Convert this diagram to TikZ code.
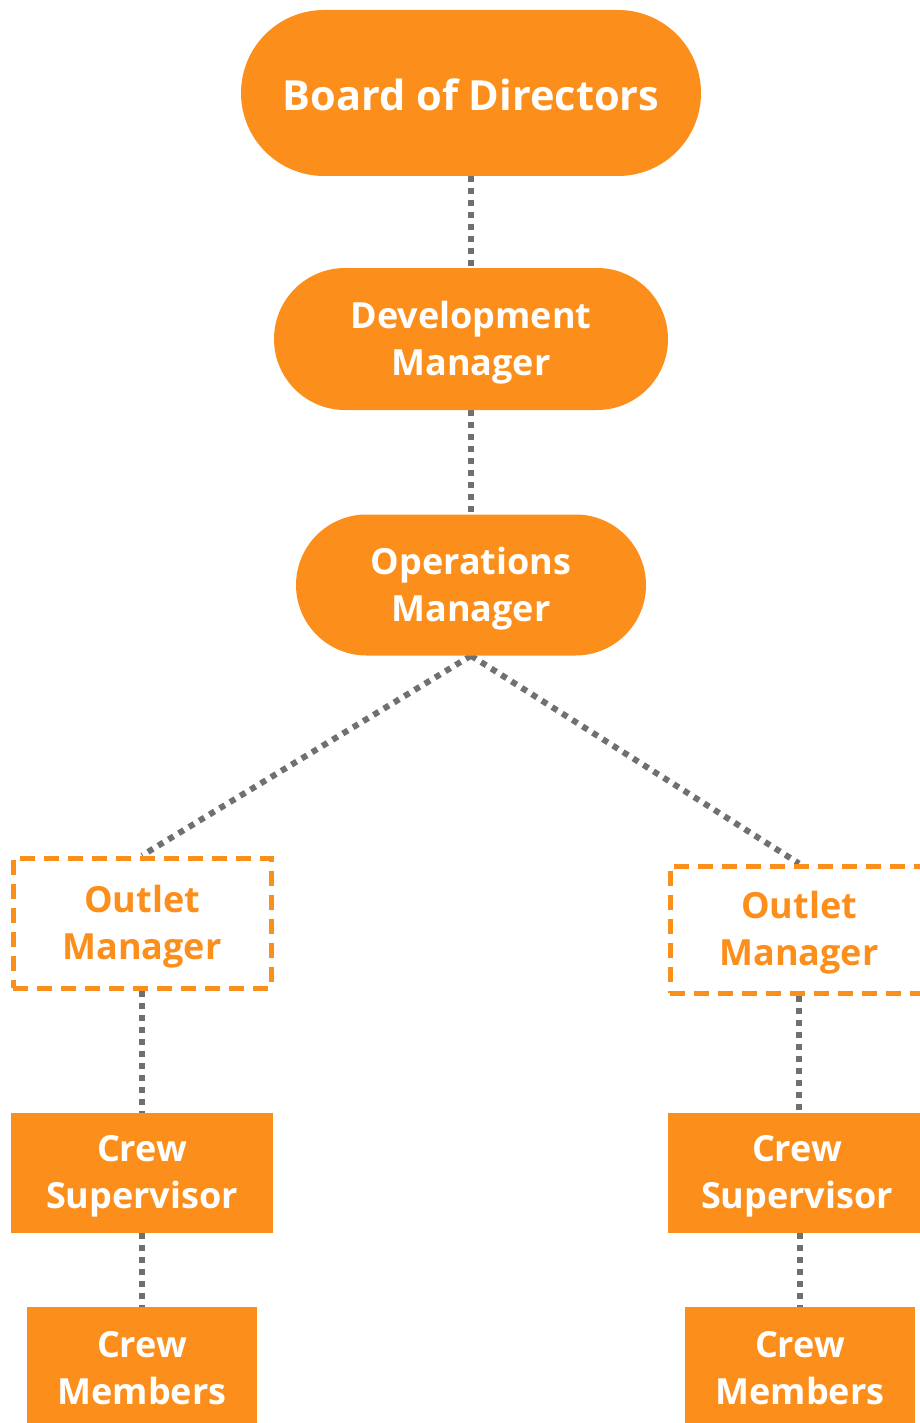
\documentclass[tikz,border=0pt]{standalone}
\usepackage{fontspec}
\setmainfont{Open Sans}[BoldFont={Open Sans Bold}]
\usetikzlibrary{shapes.misc,backgrounds}
\definecolor{orgorange}{HTML}{FC8F1B}
\definecolor{linkgray}{HTML}{707070}
\begin{document}
\begin{tikzpicture}[x=1pt,y=-1pt,
  labelfont/.style={font=\bfseries\fontsize{36}{47}\selectfont},
  % box text sits at the centre, lowered a little for optical balance
  caption/.style={label={[labelfont, text=white, align=center, inner sep=0pt, yshift=-3.5pt]center:#1}},
  dcaption/.style={label={[labelfont, text=orgorange, align=center, inner sep=0pt, yshift=-3.5pt]center:#1}},
  pill/.style={rounded rectangle, fill=orgorange, inner sep=0pt},
  solidbox/.style={rectangle, fill=orgorange, inner sep=0pt},
  dashbox/.style={rectangle, draw=orgorange, line width=5pt, dash pattern=on 15pt off 9pt, fill=white, inner sep=0pt},
  link/.style={draw=linkgray, line width=6pt, dash pattern=on 6pt off 6pt}]
\useasboundingbox (0,0) rectangle (920,1423);
\clip (0,0) rectangle (920,1423);
% org chart boxes
\node[pill, minimum width=460pt, minimum height=166pt,
  label={[font=\bfseries\fontsize{41.5}{47}\selectfont, text=white, inner sep=0pt, yshift=-2pt]center:Board of Directors}] (board) at (471,93) {};
\node[pill, minimum width=394pt, minimum height=142pt, caption={Development\\Manager}] (dev) at (471,339) {};
\node[pill, minimum width=350pt, minimum height=141pt, caption={Operations\\Manager}] (ops) at (471,585) {};
\node[dashbox, minimum width=258pt, minimum height=130pt, dcaption={Outlet\\Manager}] (outL) at (142,923) {};
\node[dashbox, minimum width=258pt, minimum height=127pt, dcaption={Outlet\\Manager}] (outR) at (799,929.5) {};
\node[solidbox, minimum width=262pt, minimum height=120pt, caption={Crew\\Supervisor}] (supL) at (142,1173) {};
\node[solidbox, minimum width=258pt, minimum height=120pt, caption={Crew\\Supervisor}] (supR) at (797,1173) {};
\node[solidbox, minimum width=230pt, minimum height=116pt, caption={Crew\\Members}] (memL) at (142,1365) {};
\node[solidbox, minimum width=230pt, minimum height=116pt, caption={Crew\\Members}] (memR) at (800,1365) {};
% dotted reporting lines, kept behind the boxes
\begin{scope}[on background layer]
\draw[link] (board.south) -- (dev.north);
\draw[link] (dev.south) -- (ops.north);
\draw[link] (ops.south) -- (outL.north);
\draw[link] (ops.south) -- (outR.north);
\draw[link] (outL.south) -- (supL.north);
\draw[link] (outR.south) -- (supR.north -| outR.south);
\draw[link] (supL.south) -- (memL.north);
\draw[link] (supR.south -| memR.north) -- (memR.north);
\end{scope}
\end{tikzpicture}
\end{document}
